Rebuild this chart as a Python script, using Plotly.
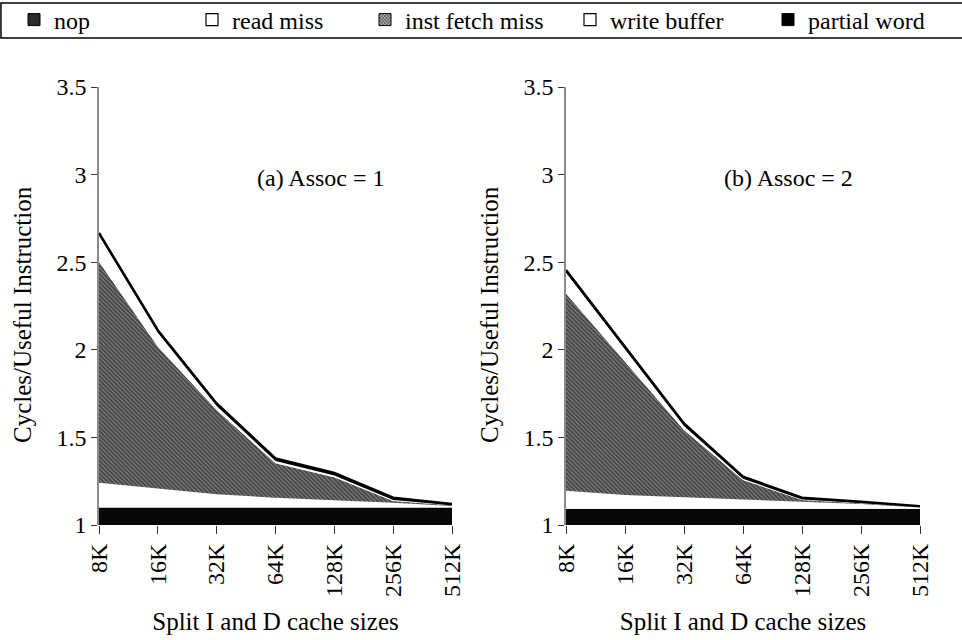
import plotly.graph_objects as go

categories = ["8K", "16K", "32K", "64K", "128K", "256K", "512K"]
y_tick_vals = [1, 1.5, 2, 2.5, 3, 3.5]
y_tick_text = ["1", "1.5", "2", "2.5", "3", "3.5"]
useful_base = [1, 1, 1, 1, 1, 1, 1]

# (a) Assoc = 1  (component heights, stacked on top of 1.0)
a1_nop = [0.10, 0.10, 0.10, 0.10, 0.10, 0.10, 0.10]
a1_read_miss = [0.141, 0.107, 0.075, 0.056, 0.043, 0.027, 0.008]
a1_inst_fetch = [1.261, 0.810, 0.481, 0.196, 0.129, 0.010, 0.005]
a1_write_buffer = [0.150, 0.080, 0.023, 0.013, 0.011, 0.006, 0.000]
a1_partial_word = [0.015, 0.015, 0.015, 0.015, 0.015, 0.013, 0.007]

# (b) Assoc = 2
a2_nop = [0.093, 0.093, 0.093, 0.093, 0.093, 0.093, 0.093]
a2_read_miss = [0.103, 0.078, 0.065, 0.052, 0.040, 0.027, 0.007]
a2_inst_fetch = [1.126, 0.761, 0.384, 0.112, 0.010, 0.004, 0.004]
a2_write_buffer = [0.118, 0.070, 0.023, 0.007, 0.003, 0.001, 0.000]
a2_partial_word = [0.015, 0.015, 0.015, 0.012, 0.010, 0.008, 0.004]

legend_names = ["nop", "read miss", "inst fetch miss", "write buffer", "partial word"]
y_title = "Cycles/Useful Instruction"
x_title = "Split I and D cache sizes"
panel_labels = ["(a) Assoc = 1", "(b) Assoc = 2"]

FONT = "Liberation Serif"
HATCH = dict(shape="\\", fgcolor="black", bgcolor="#7a7a7a", size=3, solidity=0.5)

fig = go.Figure()

def add_panel(xa, ya, nop, rm, inf, wb, pw):
    common = dict(x=categories, xaxis=xa, yaxis=ya, mode="lines", showlegend=False,
                  stackgroup="s" + xa, hoverinfo="skip")
    fig.add_trace(go.Scatter(y=useful_base, line=dict(width=0, color="white"),
                             fillcolor="rgba(0,0,0,0)", **common))
    fig.add_trace(go.Scatter(y=nop, line=dict(width=0, color="black"),
                             fillcolor="#080808", **common))
    fig.add_trace(go.Scatter(y=rm, line=dict(width=0, color="white"),
                             fillcolor="white", **common))
    fig.add_trace(go.Scatter(y=inf, line=dict(width=0, color="black"),
                             fillcolor="#3a3a3a", fillpattern=HATCH, **common))
    fig.add_trace(go.Scatter(y=wb, line=dict(width=0, color="white"),
                             fillcolor="white", **common))
    fig.add_trace(go.Scatter(y=pw, line=dict(width=2.4, color="black"),
                             fillcolor="black", **common))

add_panel("x", "y", a1_nop, a1_read_miss, a1_inst_fetch, a1_write_buffer, a1_partial_word)
add_panel("x2", "y2", a2_nop, a2_read_miss, a2_inst_fetch, a2_write_buffer, a2_partial_word)

# legend-only entries
legend_markers = [
    dict(color="#2a2a2a", line=dict(color="black", width=1)),
    dict(color="white", line=dict(color="black", width=1.2)),
    dict(color="#777", line=dict(color="black", width=1),
         pattern=dict(shape="x", fgcolor="black", bgcolor="#aaaaaa", size=3, solidity=0.5)),
    dict(color="white", line=dict(color="black", width=1.2)),
    dict(color="black", line=dict(color="black", width=1)),
]
legend_text_starts = [54, 232, 405, 610, 808]

legend_cfg = {}
for i, (name, mk, ts) in enumerate(zip(legend_names, legend_markers, legend_text_starts)):
    key = "legend" if i == 0 else f"legend{i+1}"
    fig.add_trace(go.Bar(x=[None], y=[None], name=name, marker=mk, legend=key,
                         xaxis="x3", yaxis="y3", showlegend=True))
    legend_cfg[key] = dict(x=(ts - 40) / 962, y=1 - 20 / 640, xref="container", yref="container",
                           xanchor="left", yanchor="middle",
                           bgcolor="rgba(0,0,0,0)", borderwidth=0, itemwidth=30,
                           font=dict(family=FONT, size=24, color="black"))

yaxis_common = dict(range=[1, 3.5], tickvals=y_tick_vals, ticktext=y_tick_text,
                    showline=True, linecolor="#8a8a8a", linewidth=1.5, automargin=False,
                    ticks="outside", ticklen=6, tickcolor="#333", showgrid=False,
                    zeroline=False, domain=[1 - 525 / 640, 1 - 87 / 640],
                    tickfont=dict(family=FONT, size=24, color="black"))
xaxis_common = dict(type="category", categoryorder="array", categoryarray=categories,
                    range=[0, 6], tickangle=-90, ticks="outside", ticklen=8, tickcolor="#333",
                    showline=False, showgrid=False, zeroline=False, automargin=False,
                    tickfont=dict(family=FONT, size=24, color="black"),
                    title=dict(text=x_title, standoff=16,
                               font=dict(family=FONT, size=25, color="black")))

title_font = dict(family=FONT, size=25, color="black")
annotations = [
    dict(text=panel_labels[0], x=2.65, y=2.98, xref="x", yref="y", xanchor="left",
         yanchor="middle", showarrow=False, font=dict(family=FONT, size=24, color="black")),
    dict(text=panel_labels[1], x=2.64, y=2.98, xref="x2", yref="y2", xanchor="left",
         yanchor="middle", showarrow=False, font=dict(family=FONT, size=24, color="black")),
    dict(text=y_title, textangle=-90, x=22 / 962, y=1 - 315 / 640, xref="paper", yref="paper",
         xanchor="center", yanchor="middle", showarrow=False, font=title_font),
    dict(text=y_title, textangle=-90, x=489 / 962, y=1 - 315 / 640, xref="paper", yref="paper",
         xanchor="center", yanchor="middle", showarrow=False, font=title_font),
]

fig.update_layout(
    width=962, height=640,
    margin=dict(l=0, r=0, t=0, b=0, autoexpand=False),
    paper_bgcolor="white", plot_bgcolor="white",
    xaxis=dict(domain=[99 / 962, 452 / 962], anchor="y", **xaxis_common),
    yaxis=dict(anchor="x", **yaxis_common),
    xaxis2=dict(domain=[566 / 962, 920 / 962], anchor="y2", **xaxis_common),
    yaxis2=dict(anchor="x2", **yaxis_common),
    xaxis3=dict(domain=[0, 0.01], visible=False, anchor="y3", automargin=False),
    yaxis3=dict(domain=[0.99, 1], visible=False, anchor="x3", automargin=False),
    annotations=annotations,
    shapes=[dict(type="rect", xref="paper", yref="paper", x0=0.001, x1=1.05,
                 y0=1 - 38 / 640, y1=1 - 3 / 640, line=dict(color="black", width=1.5))],
    **legend_cfg,
)

fig.write_html("out.html", config={"displayModeBar": False},
               post_script="document.body.style.margin='0';")
